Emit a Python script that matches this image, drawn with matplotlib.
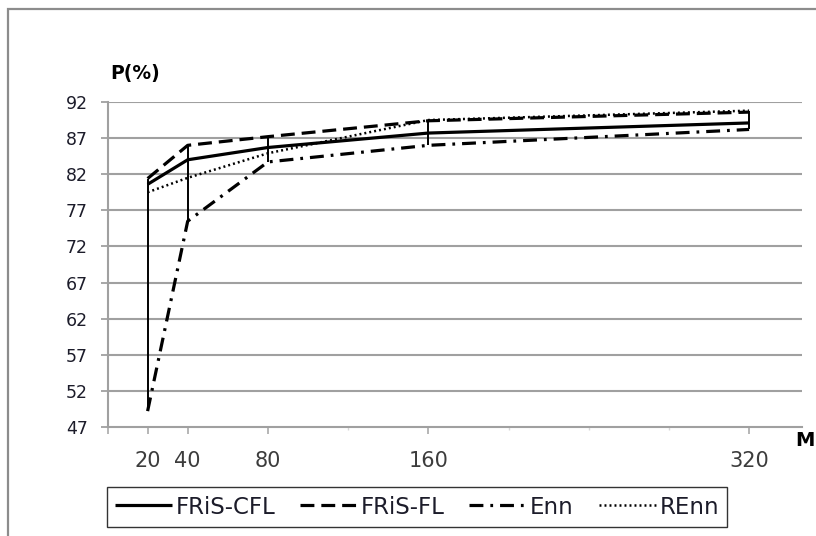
import matplotlib
matplotlib.use("Agg")
import matplotlib.pyplot as plt
from matplotlib.patches import Rectangle
import numpy as np

# ---- data ----
M = [20, 40, 80, 160, 320]
fris_cfl = [80.6, 84.0, 85.7, 87.7, 89.1]
fris_fl = [81.4, 86.0, 87.2, 89.4, 90.6]
enn = [49.2, 75.5, 83.7, 86.0, 88.2]
renn = [79.5, 81.5, 84.9, 89.5, 90.8]
series_names = ["FRiS-CFL", "FRiS-FL", "Enn", "REnn"]
y_ticks = [47, 52, 57, 62, 67, 72, 77, 82, 87, 92]
x_tick_labels = ["20", "40", "80", "160", "320"]
x_minor = [120, 200, 240, 280]

plt.rcParams['font.family'] = ['DejaVu Sans']
plt.rcParams['lines.scale_dashes'] = False

W, H = 816, 536
fig = plt.figure(figsize=(W / 100, H / 100), dpi=100)

# outer chart border
fig.patches.append(Rectangle((7.5 / W, -0.05), 1.2, 1.05 - 9 / H, transform=fig.transFigure,
                             fill=False, edgecolor='#8c8c8c', linewidth=1.6))

x0, x1 = 107.5, 802
y_top, y_bot = 102, 427
ax = fig.add_axes([x0 / W, 1 - y_bot / H, (x1 - x0) / W, (y_bot - y_top) / H])
ax.set_xlim(0, (x1 - x0) / 2.005)
ax.set_ylim(47, 92)

grid_c = '#a0a0a0'
for v in y_ticks[1:]:
    ax.axhline(v, color=grid_c, lw=1.5, zorder=1)

for s in ['top', 'right']:
    ax.spines[s].set_visible(False)
for s in ['left', 'bottom']:
    ax.spines[s].set_color(grid_c)
    ax.spines[s].set_linewidth(1.5)

ax.set_yticks(y_ticks)
ax.set_yticklabels([str(v) for v in y_ticks])
ax.tick_params(axis='y', direction='out', length=5, width=1.3, color=grid_c,
               labelsize=12.5, labelcolor='#1c1c2a', pad=9)
ax.set_xticks([0] + M)
ax.set_xticklabels([""] + x_tick_labels)
ax.tick_params(axis='x', direction='out', length=5, width=1.3, color='#b0b0b0',
               labelsize=15, labelcolor='#3c3c3c', pad=12)
ax.set_xticks(x_minor, minor=True)
ax.tick_params(axis='x', which='minor', direction='out', length=2, width=1, color='#d8d8d8')

# high-low lines
allv = np.array([fris_cfl, fris_fl, enn, renn])
ax.vlines(M, allv.min(axis=0), allv.max(axis=0), color='black', lw=1.4, zorder=3)

ax.plot(M, fris_cfl, color='black', lw=2.3, label=series_names[0], zorder=4,
        solid_capstyle='butt')
ax.plot(M, fris_fl, color='black', lw=2.3, dashes=(10, 5), label=series_names[1], zorder=4)
ax.plot(M, enn, color='black', lw=2.3, dashes=(10, 5, 2, 5), label=series_names[2], zorder=4)
ax.plot(M, renn, color='black', lw=1.8, dashes=(1.4, 2.2), label=series_names[3], zorder=4)

fig.text(110 / W, 1 - 73 / H, "P(%)", fontsize=13.5, fontweight='bold', ha='left', va='center')
fig.text(795 / W, 1 - 440 / H, "M", fontsize=14, fontweight='bold', ha='left', va='center')

leg = fig.legend(loc='center', bbox_to_anchor=(107 / W, 1 - 530 / H, 620 / W, 46 / H),
                 mode='expand', ncol=4, fontsize=16.5, handlelength=2.5, handletextpad=0.15,
                 columnspacing=0.5, frameon=True, fancybox=False, borderpad=0.35,
                 borderaxespad=0)
leg.get_frame().set_edgecolor('black')
leg.get_frame().set_linewidth(1.0)
for t in leg.get_texts():
    t.set_color('#1c1c2a')

fig.savefig("out.png", dpi=100)
